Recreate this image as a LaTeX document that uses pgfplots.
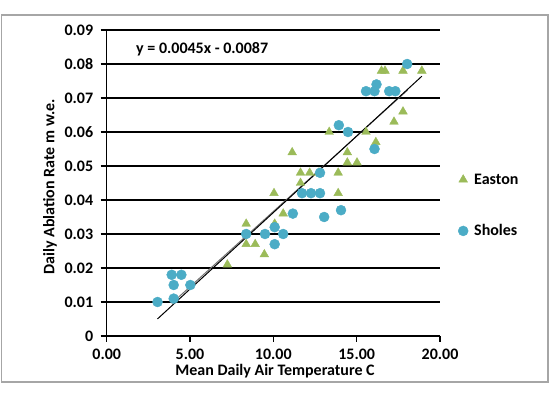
\documentclass[border=0pt]{standalone}
\usepackage{pgfplots}
\pgfplotsset{compat=1.18}
\usepackage{fontspec}
\setmainfont{Carlito}
\definecolor{eastgreen}{HTML}{9BBB59}
\definecolor{sholblue}{HTML}{4BACC6}
\begin{document}
\begin{tikzpicture}
\useasboundingbox (0,0) rectangle (550pt,399pt);
\fill[white] (0,0) rectangle (550pt,399pt);
\draw[black!35, line width=1.3pt] (1.5pt,384pt) rectangle (548pt,17pt);
\begin{axis}[
  at={(106.7pt,63pt)}, anchor=south west,
  scale only axis, width=333.3pt, height=306pt,
  xmin=0, xmax=20, ymin=0, ymax=0.09,
  scaled y ticks=false, scaled x ticks=false,
  axis x line*=bottom, axis y line*=left,
  axis line style={black, line width=1.2pt, -},
  xtick={0,5,10,15,20},
  xticklabels={0.00,5.00,10.00,15.00,20.00},
  ytick={0,0.01,0.02,0.03,0.04,0.05,0.06,0.07,0.08,0.09},
  yticklabels={0,0.01,0.02,0.03,0.04,0.05,0.06,0.07,0.08,0.09},
  tick align=outside, major tick length=6pt,
  tick style={black, line width=1.2pt},
  ymajorgrids, grid style={black, line width=1.2pt},
  ticklabel style={font=\fontsize{16}{18}\selectfont\bfseries},
  xticklabel style={yshift=-3pt},
  yticklabel style={xshift=-4pt},
  xlabel={Mean Daily Air Temperature C},
  ylabel={Daily Ablation Rate m w.e.},
  label style={font=\fontsize{16}{18}\selectfont\bfseries},
  xlabel style={at={(axis description cs:0.505,-0.114)}, anchor=center},
  ylabel style={at={(axis description cs:-0.170,0.487)}, anchor=center},
  clip=false,
  legend style={at={(1.054,0.4265)}, anchor=west, draw=none, fill=none,
    inner sep=0pt, row sep=35pt,
    font=\fontsize{16}{18}\selectfont\bfseries,
    nodes={inner xsep=6pt}},
  legend image code/.code={\draw[#1] plot coordinates {(0pt,0pt)};},
  legend cell align=left,
]
\addplot[only marks, mark=triangle*, mark size=5pt, color=eastgreen] coordinates {
(7.24,0.021) (8.37,0.033) (8.37,0.027) (8.91,0.027) (9.46,0.024)
(10.04,0.042) (10.08,0.033) (10.59,0.036) (11.13,0.054) (11.63,0.048)
(11.63,0.045) (12.18,0.048) (12.72,0.048) (13.35,0.060) (13.89,0.048)
(13.89,0.042) (14.44,0.054) (14.44,0.051) (15.02,0.051) (15.56,0.060)
(16.15,0.057) (16.49,0.078) (16.70,0.078) (17.24,0.063) (17.78,0.078)
(17.78,0.066) (18.91,0.078)
};
\addlegendentry{Easton}
\addplot[only marks, mark=*, mark size=5pt, color=sholblue] coordinates {
(3.05,0.010) (3.90,0.018) (4.48,0.018) (4.02,0.015) (4.02,0.011)
(5.02,0.015) (8.37,0.030) (9.50,0.030) (10.08,0.032) (10.08,0.027)
(10.59,0.030) (11.17,0.036) (11.72,0.042) (12.26,0.042) (12.80,0.042)
(12.80,0.048) (13.05,0.035) (13.93,0.062) (14.48,0.060) (14.06,0.037)
(15.56,0.072) (16.07,0.072) (16.19,0.074) (16.07,0.055) (16.95,0.072)
(17.32,0.072) (18.03,0.080)
};
\addlegendentry{Sholes}
\addplot[black!55, line width=1pt, forget plot] coordinates {(3.9,0.0096) (18.05,0.0723)};
\addplot[black, line width=1pt, forget plot] coordinates {(3.05,0.00503) (18.91,0.0764)};
\node[anchor=west, font=\fontsize{16}{18}\selectfont\bfseries, inner sep=0pt] at (axis cs:1.76,0.0843) {y = 0.0045x - 0.0087};
\end{axis}
\end{tikzpicture}
\end{document}
